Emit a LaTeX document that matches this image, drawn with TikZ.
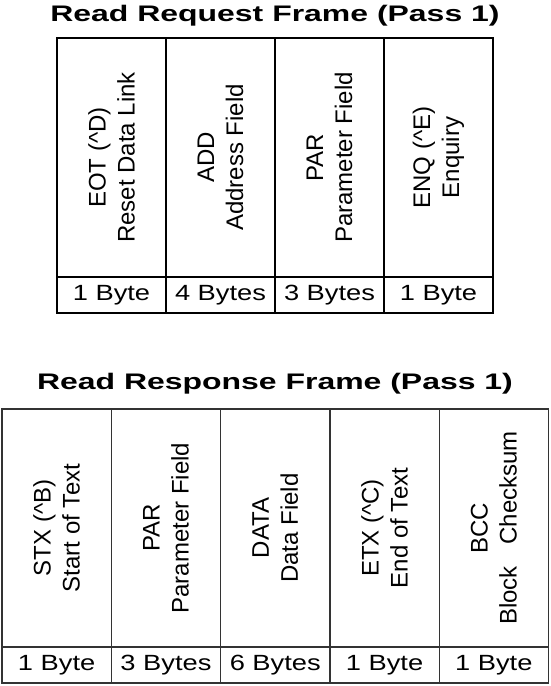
\documentclass[tikz,border=0pt]{standalone}
\usepackage{fontspec}
\setmainfont{Liberation Sans}
\usepackage{graphicx}
\begin{document}
\begin{tikzpicture}[x=1pt,y=-1pt,
  frametitle/.style={font=\bfseries\fontsize{22.5}{26}\selectfont, inner sep=0pt, anchor=base},
  fieldtop/.style={draw=black, line width=2pt, rotate=90, minimum width=239pt, minimum height=109pt, inner sep=0pt, align=center, font=\fontsize{24}{29}\selectfont},
  bytetop/.style={draw=black, line width=2pt, minimum width=109pt, minimum height=36pt, inner sep=0pt, font=\fontsize{22}{26}\selectfont},
  fieldbot/.style={draw=black!80, line width=1.3pt, rotate=90, minimum width=238pt, minimum height=109.3pt, inner sep=0pt, align=center, font=\fontsize{24}{29}\selectfont},
  bytebot/.style={draw=black!80, line width=1.3pt, minimum width=109.3pt, minimum height=36pt, inner sep=0pt, font=\fontsize{22}{26}\selectfont}
]
\useasboundingbox (0,0) rectangle (550,686);
\newcommand{\wb}[1]{\scalebox{1.24}[1]{#1}}
% titles
\node[frametitle] (t1) at (275,21) {\scalebox{1.42}[1]{Read Request Frame (Pass 1)}};
\node[frametitle] (t2) at (275,389) {\scalebox{1.42}[1]{Read Response Frame (Pass 1)}};
% top table
\node[fieldtop] (a1) at (111.5,157.5) {EOT (\^{}D)\\Reset Data Link};
\node[fieldtop] (a2) at (220.5,157.5) {ADD\\Address Field};
\node[fieldtop] (a3) at (329.5,157.5) {PAR\\Parameter Field};
\node[fieldtop] (a4) at (438.5,157.5) {ENQ (\^{}E)\\Enquiry};
\node[bytetop] (b1) at (111.5,295) {\wb{1 Byte}};
\node[bytetop] (b2) at (220.5,295) {\wb{4 Bytes}};
\node[bytetop] (b3) at (329.5,295) {\wb{3 Bytes}};
\node[bytetop] (b4) at (438.5,295) {\wb{1 Byte}};
% bottom table
\node[fieldbot] (c1) at (56.65,528) {STX (\^{}B)\\Start of Text};
\node[fieldbot] (c2) at (165.95,528) {PAR\\Parameter Field};
\node[fieldbot] (c3) at (275.25,528) {DATA\\Data Field};
\node[fieldbot] (c4) at (384.55,528) {ETX (\^{}C)\\End of Text};
\node[fieldbot] (c5) at (493.85,528) {BCC\\Block\hspace{0.9em}Checksum};
\node[bytebot] (d1) at (56.65,665) {\wb{1 Byte}};
\node[bytebot] (d2) at (165.95,665) {\wb{3 Bytes}};
\node[bytebot] (d3) at (275.25,665) {\wb{6 Bytes}};
\node[bytebot] (d4) at (384.55,665) {\wb{1 Byte}};
\node[bytebot] (d5) at (493.85,665) {\wb{1 Byte}};
\end{tikzpicture}
\end{document}
